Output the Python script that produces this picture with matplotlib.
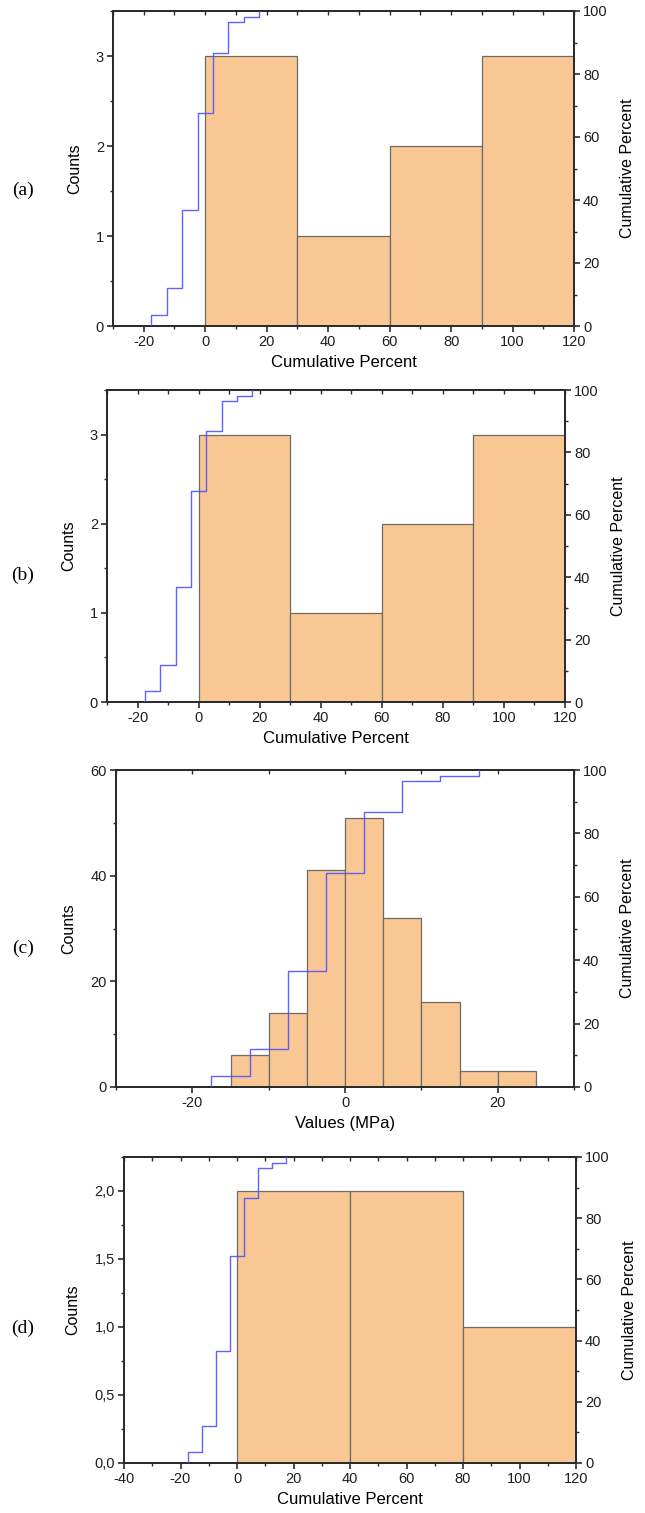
import numpy as np
import matplotlib
matplotlib.use("Agg")
import matplotlib.pyplot as plt
from matplotlib.ticker import MultipleLocator, FuncFormatter

### data

# panels (a) and (b): same histogram
ab_edges = [0, 30, 60, 90, 120]
ab_counts = [3, 1, 2, 3]

# panel (c): stress values histogram
c_edges = [-15, -10, -5, 0, 5, 10, 15, 20, 25]
c_counts = [6, 14, 41, 51, 32, 16, 3, 3]

# panel (d)
d_edges = [0, 40, 80, 120]
d_counts = [2, 2, 1]

# cumulative percent curve (same in every panel)
cum_x = [-17.5, -17.5, -12.5, -7.5, -2.5, 2.5, 7.5, 12.5, 17.5]
cum_pct = [0, 3.6, 12.0, 36.7, 67.5, 86.7, 96.4, 98.2, 100]

panel_tags = ["(a)", "(b)", "(c)", "(d)"]

### style
W, H = 645, 1513
bar_face = "#F9C794"
bar_edge = "#6e6a66"
line_col = "#5050FF"
spine_col = "#2b2b2b"
plt.rcParams["font.family"] = ["Liberation Sans", "DejaVu Sans"]
plt.rcParams["axes.unicode_minus"] = False

fig = plt.figure(figsize=(W / 100, H / 100), dpi=100)


def px_rect(left, right, top, bottom):
    return [left / W, 1 - bottom / H, (right - left) / W, (bottom - top) / H]


def comma_fmt(v, pos):
    return ("%.1f" % v).replace(".", ",")


def make_panel(rect, edges, counts, xlim, xmajor, xminor, ylim, ymajor, yminor,
               xlabel, tag, tag_y, comma=False):
    ax = fig.add_axes(rect)
    ax.bar(edges[:-1], counts, width=np.diff(edges), align="edge",
           facecolor=bar_face, edgecolor=bar_edge, linewidth=0.9, zorder=2)
    ax.set_xlim(*xlim)
    ax.set_ylim(*ylim)
    ax.xaxis.set_major_locator(MultipleLocator(xmajor))
    ax.xaxis.set_minor_locator(MultipleLocator(xminor))
    ax.yaxis.set_major_locator(MultipleLocator(ymajor))
    ax.yaxis.set_minor_locator(MultipleLocator(yminor))
    if comma:
        ax.yaxis.set_major_formatter(FuncFormatter(comma_fmt))
    ax.tick_params(which="major", direction="out", length=4.5, width=1.2,
                   color=spine_col, labelsize=10.5, labelcolor="#1e1e1e", pad=2)
    ax.tick_params(which="minor", direction="out", length=2.5, width=1.0,
                   color=spine_col)
    for s in ax.spines.values():
        s.set_color(spine_col)
        s.set_linewidth(1.3)
    ax.set_xlabel(xlabel, fontsize=12, labelpad=4)
    ax.set_ylabel("Counts", fontsize=11.5, labelpad=10)

    # top axis: inward ticks, no labels
    top = ax.secondary_xaxis("top")
    top.xaxis.set_major_locator(MultipleLocator(xmajor))
    top.xaxis.set_minor_locator(MultipleLocator(xminor))
    top.tick_params(which="both", direction="in", length=3, width=1.0,
                    color=spine_col, labeltop=False)
    top.spines["top"].set_color(spine_col)
    top.spines["top"].set_linewidth(1.3)

    ax2 = ax.twinx()
    ax2.step(cum_x, cum_pct, where="post", color=line_col, linewidth=1.0,
             alpha=0.9, zorder=3)
    ax2.set_ylim(0, 100)
    ax2.yaxis.set_major_locator(MultipleLocator(20))
    ax2.yaxis.set_minor_locator(MultipleLocator(10))
    ax2.tick_params(which="major", direction="out", length=4.5, width=1.2,
                    color=spine_col, labelsize=10.5, labelcolor="#1e1e1e", pad=2)
    ax2.tick_params(which="minor", direction="out", length=2.5, width=1.0,
                    color=spine_col)
    for s in ax2.spines.values():
        s.set_color(spine_col)
        s.set_linewidth(1.3)
    ax2.set_ylabel("Cumulative Percent", fontsize=11.5, labelpad=9)

    fig.text(23 / W, 1 - tag_y / H, tag, fontsize=14, family="Liberation Serif",
             ha="center", va="center")
    return ax, ax2


make_panel(px_rect(113, 574, 11, 326), ab_edges, ab_counts, (-30, 120), 20, 10,
           (0, 3.5), 1, 0.5, "Cumulative Percent", panel_tags[0], 190)
make_panel(px_rect(107, 565, 390, 702), ab_edges, ab_counts, (-30, 120), 20, 10,
           (0, 3.5), 1, 0.5, "Cumulative Percent", panel_tags[1], 575)
make_panel(px_rect(116, 574, 770, 1087), c_edges, c_counts, (-30, 30), 20, 10,
           (0, 60), 20, 10, "Values (MPa)", panel_tags[2], 948)
make_panel(px_rect(124, 576, 1157, 1463), d_edges, d_counts, (-40, 120), 20, 10,
           (0, 2.25), 0.5, 0.25, "Cumulative Percent", panel_tags[3], 1328,
           comma=True)

fig.savefig("out.png", dpi=100)
